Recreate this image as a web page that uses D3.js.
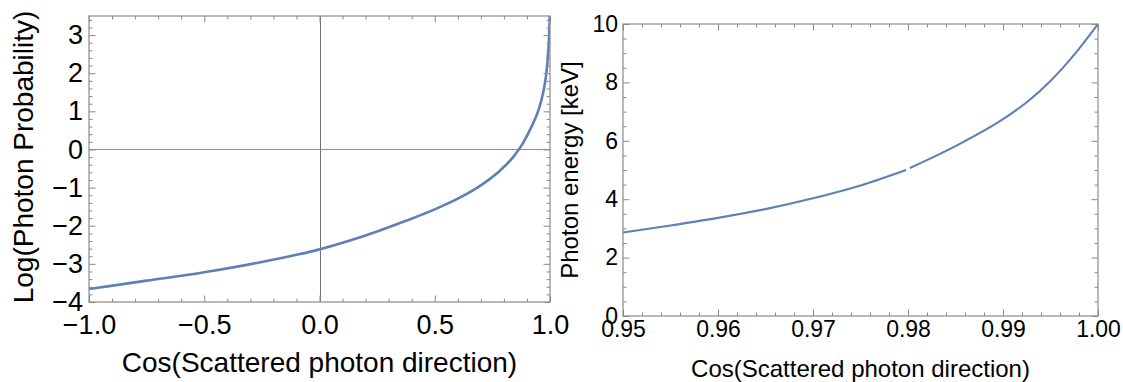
<!DOCTYPE html>
<html>
<head>
<meta charset="utf-8">
<script src="https://cdn.jsdelivr.net/npm/d3@7"></script>
<style>
  body { margin: 0; background: #fff; }
  svg text { font-family: "Liberation Sans", Arial, sans-serif; fill: #000; }
</style>
</head>
<body>
<svg id="chart"></svg>
<script>
// ─── Data ───────────────────────────────────────────────────────────────────
// left panel: log of photon probability vs cos of scattered direction
const leftCos     = [-1, -0.75, -0.5, -0.25, 0, 0.125, 0.25, 0.375, 0.5, 0.6, 0.7, 0.78, 0.84, 0.88, 0.92, 0.95, 0.97, 0.982, 0.99, 0.995, 0.998, 1.0];
const leftLogProb = [-3.66, -3.44, -3.22, -2.95, -2.62, -2.40, -2.15, -1.87, -1.57, -1.29, -0.94, -0.57, -0.2, 0.14, 0.6, 1.03, 1.48, 1.9, 2.37, 2.85, 3.3, 3.7];

// right panel: photon energy vs cos (small break near 0.98)
const rightCos    = [0.95, 0.955, 0.96, 0.965, 0.97, 0.975, 0.9798, 0.98, 0.9802, 0.985, 0.99, 0.9925, 0.995, 0.9975, 1.0];
const rightEnergy = [2.86, 3.10, 3.36, 3.66, 4.03, 4.47, 5.0, null, 5.07, 5.82, 6.74, 7.32, 8.05, 8.95, 10.0];

const leftXTicks  = [-1, -0.5, 0, 0.5, 1];
const leftYTicks  = [-4, -3, -2, -1, 0, 1, 2, 3];
const rightXTicks = [0.95, 0.96, 0.97, 0.98, 0.99, 1.0];
const rightYTicks = [0, 2, 4, 6, 8, 10];

// ─── SVG setup ──────────────────────────────────────────────────────────────
const W = 1123, H = 382;
const svg = d3.select("#chart").attr("width", W).attr("height", H);
svg.append("rect").attr("width", W).attr("height", H).attr("fill", "#fff");

const frameColor = "#8a8a8a";
const lineColor  = "#5e81b5";

// helper: minor tick values on a fixed step
const minors = (lo, hi, step) => d3.range(Math.round((hi - lo) / step) + 1).map(i => +(lo + i * step).toFixed(6));

// ─── Panel drawer ───────────────────────────────────────────────────────────
function drawPanel(cfg) {
  const { x, y, xs, ys, fmtX, fmtY, fontSize, titleSize } = cfg;
  const [x0, x1] = x.range();
  const [y0, y1] = y.range();  // y0 bottom, y1 top
  const g = svg.append("g");

  const id = "clip" + cfg.name;
  g.append("clipPath").attr("id", id)
    .append("rect").attr("x", x0).attr("y", y1).attr("width", x1 - x0).attr("height", y0 - y1);

  // axes through origin (left panel only)
  if (cfg.originAxes) {
    g.append("line")
      .attr("x1", Math.round(x(0)) + 0.5).attr("x2", Math.round(x(0)) + 0.5)
      .attr("y1", y1).attr("y2", y0)
      .attr("stroke", "#707070").attr("stroke-width", 1);
    g.append("line")
      .attr("x1", x0).attr("x2", x1)
      .attr("y1", Math.round(y(0)) + 0.5).attr("y2", Math.round(y(0)) + 0.5)
      .attr("stroke", "#909090").attr("stroke-width", 1.2);
  }

  // the curve
  const line = d3.line()
    .defined(d => d[1] != null)
    .x(d => x(d[0]))
    .y(d => y(d[1]))
    .curve(d3.curveMonotoneX);

  g.append("path")
    .datum(cfg.xsData.map((c, i) => [c, cfg.ysData[i]]))
    .attr("clip-path", `url(#${id})`)
    .attr("fill", "none")
    .attr("stroke", lineColor)
    .attr("stroke-width", cfg.lw)
    .attr("d", line);

  // frame
  g.append("rect")
    .attr("x", x0).attr("y", y1)
    .attr("width", x1 - x0).attr("height", y0 - y1)
    .attr("fill", "none")
    .attr("stroke", frameColor)
    .attr("stroke-width", 1.2);

  // ticks: major + minor on all four sides, pointing inward
  const sides = [
    { mkAxis: d3.axisBottom, sc: x, tr: `translate(0,${y0})`, vals: xs.major, min: xs.minor, lab: true, fmt: fmtX, pad: cfg.padX },
    { mkAxis: d3.axisTop,    sc: x, tr: `translate(0,${y1})`, vals: xs.major, min: xs.minor, lab: false },
    { mkAxis: d3.axisLeft,   sc: y, tr: `translate(${x0},0)`, vals: ys.major, min: ys.minor, lab: true, fmt: fmtY, pad: cfg.padY },
    { mkAxis: d3.axisRight,  sc: y, tr: `translate(${x1},0)`, vals: ys.major, min: ys.minor, lab: false }
  ];
  sides.forEach(s => {
    const mk = (vals, size, fmt, pad) => {
      const a = s.mkAxis(s.sc)
        .tickValues(vals).tickSize(-size).tickPadding(pad || 0).tickFormat(fmt || (() => ""));
      const gg = g.append("g").attr("transform", s.tr).call(a);
      gg.select(".domain").remove();
      gg.selectAll("line").attr("stroke", frameColor).attr("stroke-width", 1);
      gg.selectAll("text").attr("font-size", fontSize).attr("fill", "#000")
        .style("font-family", '"Liberation Sans", Arial, sans-serif');
    };
    mk(s.min.filter(v => !s.vals.some(m => Math.abs(m - v) < 1e-9)), 3.5);
    mk(s.vals, 6.5, s.lab ? s.fmt : null, s.pad);
  });

  // axis titles
  g.append("text")
    .attr("x", (x0 + x1) / 2)
    .attr("y", cfg.xTitleY)
    .attr("text-anchor", "middle")
    .attr("font-size", titleSize)
    .text(cfg.xTitle);

  g.append("text")
    .attr("transform", `translate(${cfg.yTitleX},${cfg.yTitleCY}) rotate(-90)`)
    .attr("text-anchor", "middle")
    .attr("font-size", titleSize)
    .text(cfg.yTitle);
}

// ─── Left panel ─────────────────────────────────────────────────────────────
const xL = d3.scaleLinear().domain([-1, 1]).range([89, 550]);
const yL = d3.scaleLinear().domain([-4, 3.5]).range([302, 16]);

drawPanel({
  name: "L", x: xL, y: yL,
  xs: { major: leftXTicks, minor: minors(-1, 1, 0.1) },
  ys: { major: leftYTicks, minor: minors(-4, 3.4, 0.2) },
  fmtX: d3.format(".1f"), fmtY: d3.format("d"),
  padX: 13, padY: 6,
  fontSize: 27, titleSize: 28, lw: 2.6,
  xsData: leftCos, ysData: leftLogProb,
  originAxes: true,
  xTitle: "Cos(Scattered photon direction)", xTitleY: 372,
  yTitle: "Log(Photon Probability)", yTitleX: 33, yTitleCY: 157
});

// ─── Right panel ────────────────────────────────────────────────────────────
const xR = d3.scaleLinear().domain([0.95, 1.0]).range([623, 1098]);
const yR = d3.scaleLinear().domain([0, 10]).range([316, 24]);

drawPanel({
  name: "R", x: xR, y: yR,
  xs: { major: rightXTicks, minor: minors(0.95, 1.0, 0.002) },
  ys: { major: rightYTicks, minor: minors(0, 10, 0.5) },
  fmtX: d3.format(".2f"), fmtY: d3.format("d"),
  padX: 5, padY: 5,
  fontSize: 23, titleSize: 24, lw: 2.1,
  xsData: rightCos, ysData: rightEnergy,
  originAxes: false,
  xTitle: "Cos(Scattered photon direction)", xTitleY: 377,
  yTitle: "Photon energy [keV]", yTitleX: 578, yTitleCY: 170
});
</script>
</body>
</html>
